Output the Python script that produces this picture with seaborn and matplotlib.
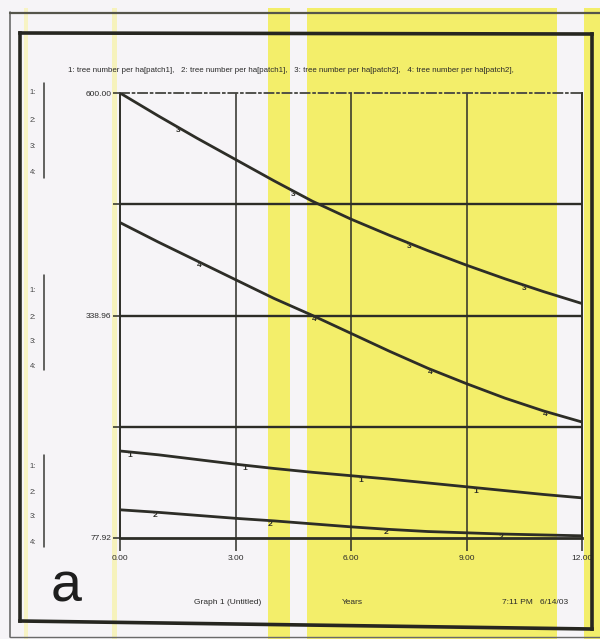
import numpy as np
import pandas as pd
import matplotlib
matplotlib.use("Agg")
import matplotlib.pyplot as plt
from matplotlib.patches import Rectangle
from matplotlib.lines import Line2D
import seaborn as sns

# ---- data -------------------------------------------------------------
years = list(range(13))
tree_patch1_a = [180.0, 175.5, 170.0, 164.5, 159.5, 155.0, 151.0, 147.0, 142.5, 138.0, 133.5, 129.0, 125.0]
tree_patch1_b = [111.0, 108.0, 104.5, 101.0, 98.0, 94.5, 91.0, 88.0, 85.5, 84.0, 82.5, 81.5, 80.5]
tree_patch2_a = [600.0, 573.0, 547.0, 522.0, 497.0, 473.0, 452.0, 433.0, 415.0, 398.0, 382.0, 367.0, 353.0]
tree_patch2_b = [448.0, 425.0, 403.0, 381.0, 359.0, 339.0, 318.0, 297.0, 277.0, 259.0, 242.0, 227.0, 214.0]
series_ids = ["1", "2", "3", "4"]
legend_text = ("1: tree number per ha[patch1],   2: tree number per ha[patch1],   "
               "3: tree number per ha[patch2],   4: tree number per ha[patch2],")
y_min, y_max = 77.92, 600.00
y_tick_labels = ["600.00", "338.96", "77.92"]
x_tick_labels = ["0.00", "3.00", "6.00", "9.00", "12.00"]
marker_offsets = [0.25, 0.9, 1.5, 2.05]

df = pd.DataFrame({
    "year": years * 4,
    "value": tree_patch1_a + tree_patch1_b + tree_patch2_a + tree_patch2_b,
    "series": sum([[s] * len(years) for s in series_ids], []),
})

# ---- figure -----------------------------------------------------------
sns.set_style("white")
plt.rcParams["font.family"] = ["Liberation Sans", "DejaVu Sans"]

W, H = 600, 639
INK = "#2d2d27"
TXT = "#2a2a2a"
YELLOW = "#f3ee6a"
fig = plt.figure(figsize=(W / 100, H / 100), dpi=100)
fig.patch.set_facecolor("#f6f4f7")


def fx(x):
    return x / W


def fy(y):
    return 1 - y / H


# highlighter bands
for x0, x1, c in [(268, 290, YELLOW), (307, 557, YELLOW), (584, 600, YELLOW),
                  (24, 28, "#f7f3c4"), (112, 117, "#f6f2bc")]:
    fig.add_artist(Rectangle((fx(x0), 0), fx(x1) - fx(x0), fy(8), transform=fig.transFigure,
                             facecolor=c, edgecolor="none", zorder=-5))

# page frames
fig.add_artist(Line2D([fx(10), fx(10)], [fy(12), fy(637)], transform=fig.transFigure, color="#6a6a6a", lw=1.2))
fig.add_artist(Line2D([fx(10), fx(600)], [fy(13), fy(13)], transform=fig.transFigure, color="#55554a", lw=1.6))
fig.add_artist(Line2D([fx(10), fx(600)], [fy(637), fy(637)], transform=fig.transFigure, color="#6a6a6a", lw=1.0))
for xs, ys in [([20, 592], [33, 34]), ([20, 20], [33, 621]), ([592, 592], [34, 629]), ([20, 592], [621, 629])]:
    fig.add_artist(Line2D([fx(v) for v in xs], [fy(v) for v in ys], transform=fig.transFigure,
                          color="#262620", lw=2.6, solid_capstyle="projecting"))

ax = fig.add_axes([fx(120), fy(538), fx(582) - fx(120), fy(93) - fy(538)])
ax.set_facecolor("none")

sns.lineplot(data=df, x="year", y="value", hue="series", palette=[INK] * 4,
             legend=False, lw=2.0, ax=ax, zorder=3)

ax.set_xlim(0, 12)
ax.set_ylim(y_min, y_max)
step = (y_max - y_min) / 4
for k in (1, 2, 3):
    ax.axhline(y_min + k * step, color=INK, lw=1.7, zorder=2)
for xv in (3, 6, 9):
    ax.axvline(xv, color=INK, lw=1.1, zorder=2)

for side in ("left", "right", "bottom"):
    ax.spines[side].set_color(INK)
    ax.spines[side].set_linewidth(1.4)
ax.spines["bottom"].set_linewidth(2.0)
ax.spines["top"].set_color("#444440")
ax.spines["top"].set_linewidth(1.3)
ax.spines["top"].set_linestyle((0, (5, 2, 1, 2)))

ax.set_yticks([y_max, y_min + 3 * step, y_min + 2 * step, y_min + step, y_min])
ax.set_yticklabels([y_tick_labels[0], "", y_tick_labels[1], "", y_tick_labels[2]])
ax.set_xticks([0, 3, 6, 9, 12])
ax.set_xticklabels(x_tick_labels)
ax.tick_params(axis="y", direction="out", length=5, width=1.1, color=INK, labelsize=6,
               pad=1, labelcolor=TXT, left=True)
ax.tick_params(axis="x", direction="out", length=9, width=1.1, color=INK, labelsize=6,
               pad=3, labelcolor=TXT, bottom=True)
ax.set_xlabel("")
ax.set_ylabel("")

# series number tags along the curves
for sid, off in zip(series_ids, marker_offsets):
    sub = df[df["series"] == sid]
    for t in np.arange(off, 12, 3.0):
        v = np.interp(t, sub["year"], sub["value"])
        ax.text(t, v, sid, ha="center", va="top", fontsize=6, fontweight="bold", color=INK, zorder=4)

# legend line
fig.text(fx(68), fy(70), legend_text, ha="left", va="center", fontsize=5.7, color=TXT)

# scale brackets on the left
for top, bot, rows in [(83, 178, [93, 120, 147, 173]),
                       (275, 370, [290, 317, 342, 367]),
                       (455, 547, [467, 492, 517, 542])]:
    fig.add_artist(Line2D([fx(44), fx(44)], [fy(top), fy(bot)], transform=fig.transFigure, color="#3a3a36", lw=1.1))
    for sid, yy in zip(series_ids, rows):
        fig.text(fx(33), fy(yy), sid + ":", ha="center", va="center", fontsize=5.5, color="#444444")

# footer
fig.text(fx(228), fy(603), "Graph 1 (Untitled)", ha="center", va="center", fontsize=6, color=TXT)
fig.text(fx(352), fy(603), "Years", ha="center", va="center", fontsize=6, color=TXT)
fig.text(fx(535), fy(603), "7:11 PM   6/14/03", ha="center", va="center", fontsize=6, color=TXT)
fig.text(fx(66), fy(588), "a", ha="center", va="center", fontsize=40, color="#1e1e1e")

fig.savefig("out.png", dpi=100, facecolor=fig.get_facecolor())
